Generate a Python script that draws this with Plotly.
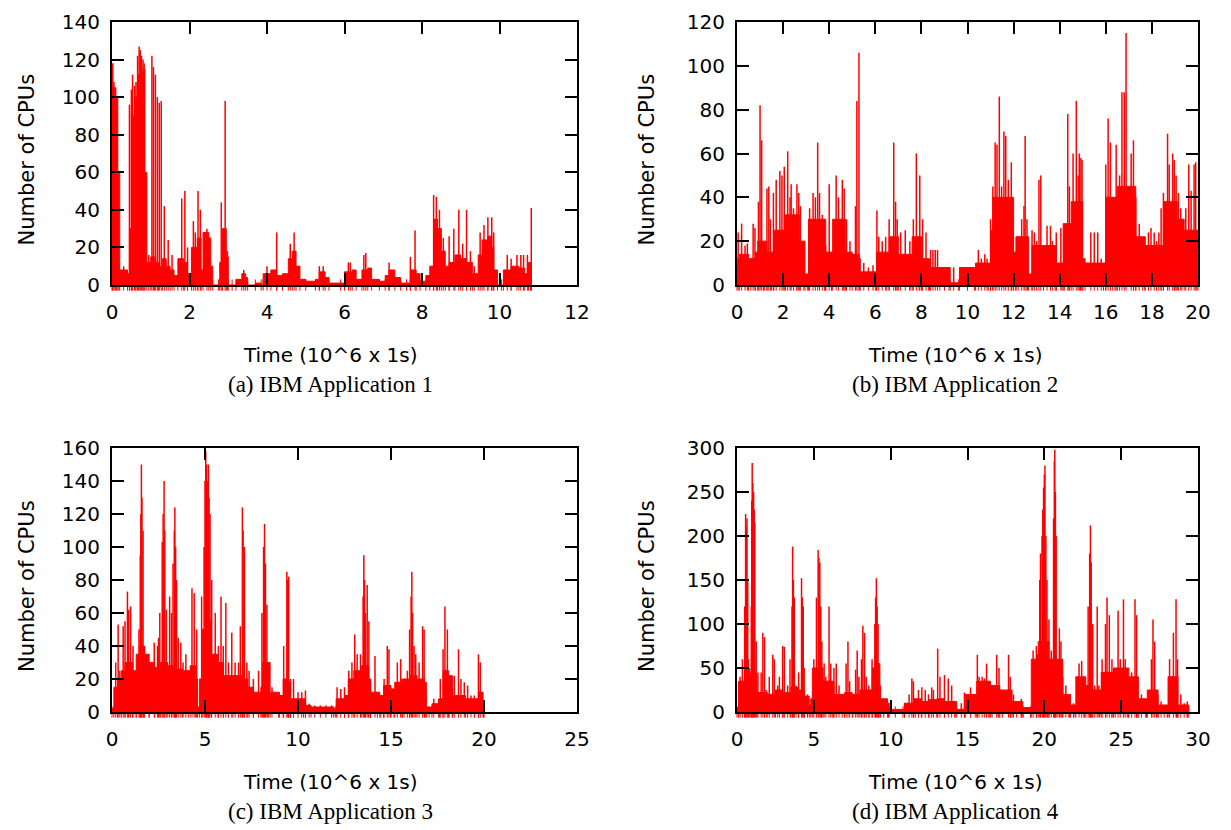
import plotly.graph_objects as go

# ---------------- data ----------------
# Panel (a) IBM Application 1 : dense body (t, cpus) and individual spikes (t, cpus)
a_body = [(0, 0), (0.01, 105), (0.1, 100), (0.15, 60), (0.2, 8), (0.4, 6), (0.45, 30), (0.5, 90), (0.6, 100),
          (0.68, 112), (0.8, 115), (0.85, 60), (0.9, 12), (1.0, 15), (1.1, 12), (1.2, 10), (1.3, 14),
          (1.4, 10), (1.5, 8), (1.6, 5), (1.7, 14), (1.85, 12), (1.95, 6), (2.05, 20), (2.2, 25), (2.3, 8),
          (2.35, 28), (2.5, 25), (2.55, 10), (2.6, 0), (2.75, 0), (2.78, 12), (2.85, 30), (2.95, 15), (3.0, 0),
          (3.1, 0), (3.2, 3), (3.35, 6), (3.45, 4), (3.5, 0), (3.7, 1), (3.85, 0), (3.9, 6), (4.1, 8), (4.25, 5),
          (4.4, 6), (4.55, 14), (4.65, 18), (4.75, 10), (4.85, 3), (5.0, 2), (5.25, 3), (5.35, 7), (5.5, 4),
          (5.6, 1), (5.9, 1), (6.0, 7), (6.2, 8), (6.3, 3), (6.45, 8), (6.6, 9), (6.7, 3), (6.9, 2), (7.05, 5),
          (7.15, 8), (7.3, 4), (7.45, 1), (7.6, 1), (7.7, 8), (7.85, 6), (7.95, 2), (8.1, 5), (8.2, 10), (8.3, 35),
          (8.4, 30), (8.5, 18), (8.6, 10), (8.7, 12), (8.85, 16), (9.0, 14), (9.15, 12), (9.3, 6), (9.45, 16),
          (9.55, 24), (9.7, 26), (9.8, 20), (9.85, 8), (9.95, 0), (10.05, 0), (10.1, 8), (10.3, 10), (10.5, 9),
          (10.65, 6), (10.75, 12), (10.8, 10), (10.82, 0)]
a_spikes = [(0.02, 118), (0.05, 108), (0.08, 100), (0.12, 96), (0.18, 12), (0.3, 10), (0.45, 96), (0.5, 104),
            (0.53, 112), (0.58, 106), (0.62, 108), (0.66, 122), (0.7, 127), (0.73, 125), (0.76, 122), (0.8, 120),
            (0.83, 118), (0.95, 16), (1.03, 122), (1.07, 116), (1.12, 112), (1.17, 100), (1.22, 97), (1.27, 98),
            (1.35, 42), (1.45, 24), (1.55, 16), (1.8, 46), (1.88, 50), (1.95, 20), (2.1, 34), (2.15, 28),
            (2.22, 50), (2.28, 40), (2.45, 30), (2.82, 44), (2.92, 98), (2.98, 18), (3.4, 8), (4.0, 10),
            (4.25, 28), (4.6, 22), (4.7, 28), (5.35, 10), (5.45, 10), (6.1, 12), (6.15, 12), (6.5, 16),
            (6.55, 17), (7.15, 12), (7.7, 15), (7.82, 29), (8.3, 48), (8.37, 47), (8.45, 40), (8.55, 25),
            (8.7, 26), (8.82, 30), (8.95, 40), (9.05, 22), (9.15, 40), (9.25, 18), (9.35, 10), (9.5, 28),
            (9.6, 32), (9.7, 36), (9.8, 36), (9.85, 28), (10.2, 16), (10.3, 14), (10.45, 16), (10.55, 16),
            (10.62, 16), (10.72, 16), (10.82, 41)]

# Panel (b) IBM Application 2
b_body = [(0, 12), (0.1, 14), (0.5, 12), (0.8, 15), (0.9, 20), (1.2, 20), (1.3, 15), (1.5, 15), (1.6, 25),
          (2.0, 25), (2.1, 32), (2.6, 32), (2.7, 20), (2.9, 20), (2.95, 5), (3.05, 5), (3.1, 30), (3.8, 30),
          (3.85, 15), (4.1, 15), (4.15, 30), (4.6, 30), (4.7, 15), (5.0, 14), (5.3, 12), (5.35, 6), (6.0, 6),
          (6.05, 15), (6.5, 15), (6.6, 22), (6.9, 22), (7.0, 14), (7.5, 14), (7.6, 22), (7.9, 22), (8.0, 12),
          (8.3, 12), (8.35, 8), (8.8, 8), (9.2, 8), (9.25, 1), (9.6, 1), (9.65, 8), (10.3, 8), (10.35, 10),
          (10.9, 10), (11.0, 25), (11.1, 40), (11.9, 40), (12.0, 15), (12.1, 22), (12.6, 22), (12.65, 5),
          (12.8, 18), (13.3, 18), (13.8, 18), (13.85, 10), (14.1, 10), (14.15, 28), (14.4, 28), (14.5, 38),
          (14.9, 38), (15.0, 12), (15.1, 10), (15.9, 10), (16.0, 40), (16.4, 40), (16.5, 45), (17.2, 45),
          (17.3, 22), (17.6, 22), (17.7, 18), (18.4, 18), (18.5, 38), (19.0, 38), (19.1, 30), (19.3, 30),
          (19.4, 25), (19.95, 25), (20, 12)]
b_spikes = [(0.05, 24), (0.2, 28), (0.35, 18), (0.45, 19), (0.6, 10), (0.7, 28), (0.78, 26), (0.93, 38),
            (1.0, 82), (1.07, 66), (1.15, 10), (1.3, 44), (1.38, 45), (1.45, 30), (1.58, 42), (1.7, 48),
            (1.86, 52), (1.95, 50), (2.05, 54), (2.2, 61), (2.3, 40), (2.35, 46), (2.45, 35), (2.6, 46),
            (2.68, 42), (2.75, 36), (3.15, 35), (3.3, 42), (3.4, 40), (3.5, 65), (3.58, 42), (3.7, 32),
            (3.85, 18), (4.0, 46), (4.1, 15), (4.3, 50), (4.4, 40), (4.57, 48), (4.65, 44), (4.75, 30),
            (4.9, 20), (5.14, 36), (5.2, 84), (5.29, 106), (5.5, 10), (5.7, 8), (5.9, 9), (6.07, 34),
            (6.15, 22), (6.3, 20), (6.45, 22), (6.6, 30), (6.8, 65), (6.88, 38), (6.95, 30), (7.1, 24),
            (7.3, 25), (7.5, 20), (7.65, 30), (7.78, 60), (7.93, 50), (8.05, 30), (8.2, 24), (8.4, 16),
            (8.5, 16), (8.6, 16), (8.7, 16), (9.0, 8), (9.4, 8), (10.0, 8), (10.47, 16), (10.6, 12),
            (10.75, 14), (10.85, 12), (11.0, 30), (11.1, 45), (11.2, 65), (11.28, 64), (11.38, 86),
            (11.48, 45), (11.58, 70), (11.66, 68), (11.77, 48), (11.9, 56), (11.98, 35), (12.1, 15),
            (12.2, 18), (12.35, 30), (12.45, 36), (12.5, 68), (12.58, 30), (12.8, 25), (12.9, 24), (13.0, 20),
            (13.1, 48), (13.18, 50), (13.3, 18), (13.45, 27), (13.6, 27), (13.68, 20), (13.85, 24),
            (14.05, 26), (14.2, 20), (14.35, 78), (14.42, 45), (14.58, 60), (14.72, 84), (14.8, 50),
            (14.85, 60), (14.92, 58), (14.97, 57), (15.35, 24), (15.5, 24), (15.65, 24), (15.8, 12),
            (16.0, 55), (16.1, 76), (16.2, 65), (16.3, 40), (16.45, 64), (16.6, 50), (16.7, 88), (16.8, 88),
            (16.88, 115), (17.1, 60), (17.2, 66), (17.3, 40), (17.45, 28), (17.7, 22), (17.85, 24),
            (17.96, 26), (18.1, 24), (18.2, 20), (18.3, 24), (18.4, 35), (18.5, 42), (18.68, 69), (18.75, 55),
            (18.9, 60), (18.97, 57), (19.05, 50), (19.15, 42), (19.25, 35), (19.47, 35), (19.6, 55),
            (19.7, 43), (19.83, 55), (19.9, 56)]

# Panel (c) IBM Application 3
c_body = [(0, 2), (0.1, 15), (0.3, 20), (0.5, 25), (0.7, 30), (0.9, 30), (1.1, 25), (1.3, 35), (1.5, 40),
          (1.7, 35), (2.0, 30), (2.3, 27), (2.6, 30), (3.0, 28), (3.4, 26), (3.8, 25), (4.2, 28), (4.5, 20),
          (4.6, 3), (4.7, 20), (4.85, 50), (5.2, 55), (5.35, 35), (5.7, 30), (6.0, 22), (6.5, 22), (7.0, 20),
          (7.3, 15), (7.6, 12), (8.0, 15), (8.1, 30), (8.35, 30), (8.5, 12), (9.0, 10), (9.2, 20), (9.5, 18),
          (9.6, 8), (10.3, 8), (10.4, 4), (10.7, 3), (11.9, 2), (12.0, 0), (12.05, 8), (12.5, 10), (12.7, 20),
          (13.0, 25), (13.4, 28), (13.8, 20), (13.9, 12), (14.4, 10), (14.6, 16), (15.0, 14), (15.2, 18),
          (15.6, 20), (16.0, 22), (16.4, 20), (16.8, 18), (16.9, 3), (17.2, 5), (17.6, 8), (17.8, 25),
          (18.1, 22), (18.3, 10), (19.0, 8), (19.5, 8), (19.7, 12), (19.95, 6), (20.0, 0)]
c_spikes = [(0.2, 30), (0.33, 53), (0.42, 25), (0.6, 52), (0.7, 55), (0.83, 73), (0.9, 62), (1.0, 64),
            (1.13, 40), (1.3, 22), (1.45, 50), (1.52, 95), (1.55, 120), (1.58, 150), (1.61, 130), (1.67, 110),
            (1.75, 40), (2.0, 28), (2.27, 42), (2.45, 40), (2.5, 45), (2.57, 60), (2.7, 103), (2.75, 120),
            (2.8, 140), (2.84, 110), (2.92, 62), (3.1, 70), (3.2, 60), (3.28, 90), (3.35, 110), (3.38, 124),
            (3.42, 100), (3.47, 80), (3.56, 45), (3.7, 42), (3.82, 30), (3.97, 35), (4.1, 25), (4.3, 75),
            (4.42, 72), (4.55, 50), (4.82, 70), (4.95, 100), (5.0, 140), (5.04, 158), (5.08, 150), (5.12, 140),
            (5.18, 150), (5.22, 130), (5.27, 120), (5.36, 80), (5.55, 60), (5.72, 40), (5.86, 70), (5.98, 40),
            (6.12, 66), (6.26, 30), (6.44, 48), (6.62, 30), (6.8, 30), (6.9, 52), (7.01, 124), (7.05, 110),
            (7.12, 100), (7.25, 30), (7.37, 25), (7.6, 20), (7.88, 25), (8.06, 60), (8.15, 100), (8.2, 114),
            (8.25, 90), (8.33, 65), (8.42, 30), (8.6, 15), (8.96, 12), (9.23, 40), (9.4, 85), (9.45, 80),
            (9.5, 82), (9.6, 20), (9.76, 20), (10.0, 12), (10.2, 12), (10.4, 13), (10.6, 5), (10.9, 4),
            (11.2, 4), (11.5, 4), (11.8, 4), (12.1, 15), (12.3, 14), (12.5, 15), (12.73, 25), (12.9, 30),
            (13.05, 47), (13.18, 35), (13.36, 35), (13.5, 70), (13.54, 95), (13.58, 80), (13.63, 60),
            (13.72, 77), (13.81, 55), (13.9, 20), (14.14, 34), (14.27, 12), (14.45, 10), (14.63, 20),
            (14.8, 40), (14.89, 38), (14.98, 10), (15.16, 12), (15.34, 30), (15.52, 32), (15.6, 20),
            (15.7, 18), (15.88, 25), (16.0, 50), (16.08, 70), (16.12, 85), (16.16, 60), (16.24, 40),
            (16.33, 35), (16.51, 30), (16.7, 52), (16.78, 50), (16.87, 10), (17.05, 2), (17.3, 8), (17.56, 8),
            (17.65, 20), (17.8, 38), (17.9, 64), (18.03, 50), (18.12, 20), (18.3, 15), (18.4, 22), (18.63, 38),
            (18.76, 20), (18.94, 18), (19.12, 16), (19.3, 10), (19.48, 10), (19.7, 35), (19.8, 30), (19.98, 3)]

# Panel (d) IBM Application 4
d_body = [(0, 5), (0.1, 35), (0.5, 40), (0.9, 45), (1.2, 40), (1.3, 22), (2.0, 20), (2.5, 25), (3.0, 22),
          (3.5, 28), (4.0, 25), (4.4, 18), (4.7, 8), (4.8, 15), (4.9, 50), (5.5, 50), (5.6, 35), (6.2, 35),
          (6.3, 20), (7.0, 22), (7.5, 20), (8.0, 25), (8.6, 25), (8.8, 50), (9.2, 55), (9.3, 15), (9.8, 10),
          (9.9, 3), (10.8, 3), (10.9, 10), (11.5, 15), (12.0, 12), (12.5, 14), (13.0, 15), (13.5, 12),
          (14.2, 12), (14.3, 3), (14.8, 3), (14.85, 20), (15.5, 20), (15.6, 35), (16.4, 35), (16.5, 30),
          (17.0, 30), (17.1, 25), (17.8, 25), (17.9, 12), (18.5, 12), (18.6, 5), (19.1, 5), (19.15, 60),
          (19.5, 65), (19.6, 80), (20.2, 80), (20.3, 60), (21.1, 60), (21.2, 20), (21.6, 20), (21.7, 8),
          (22.0, 8), (22.05, 40), (22.6, 40), (22.7, 30), (23.0, 30), (23.1, 25), (23.6, 25), (23.7, 45),
          (24.4, 45), (24.5, 50), (25.4, 50), (25.5, 40), (26.0, 40), (26.1, 15), (26.6, 15), (26.7, 25),
          (27.3, 25), (27.4, 8), (28.0, 8), (28.05, 40), (28.6, 40), (28.7, 8), (29.3, 8), (29.4, 0)]
d_spikes = [(0.2, 40), (0.35, 60), (0.5, 120), (0.56, 225), (0.6, 210), (0.65, 220), (0.7, 150), (0.74, 60),
            (0.82, 50), (0.93, 120), (0.96, 240), (0.99, 283), (1.03, 260), (1.08, 250), (1.12, 230),
            (1.16, 215), (1.25, 80), (1.36, 45), (1.57, 45), (1.68, 90), (1.79, 85),
            (1.9, 25), (2.1, 40), (2.33, 65), (2.43, 60), (2.65, 30), (2.76, 40), (2.97, 75), (3.08, 74),
            (3.3, 30), (3.45, 60), (3.58, 120), (3.62, 188), (3.67, 150), (3.73, 130), (3.84, 30), (4.01, 45),
            (4.2, 152), (4.25, 130), (4.31, 120), (4.37, 50), (4.59, 20), (5.0, 60), (5.17, 130), (5.28, 184),
            (5.33, 175), (5.39, 170), (5.45, 120), (5.52, 80), (5.67, 55), (5.78, 40), (5.99, 120), (6.1, 55),
            (6.31, 50), (6.46, 55), (6.64, 30), (6.85, 20), (7.1, 55), (7.22, 80), (7.33, 35), (7.54, 20),
            (7.72, 48), (7.82, 70), (7.93, 40), (8.1, 60), (8.19, 98), (8.3, 90), (8.41, 40), (8.58, 30),
            (8.79, 60), (8.97, 100), (9.02, 130), (9.07, 152), (9.12, 120), (9.18, 100), (9.33, 30),
            (9.55, 15), (9.87, 10), (10.3, 3), (10.9, 10), (11.2, 20), (11.38, 38), (11.48, 35), (11.6, 15),
            (11.81, 25), (12.03, 28), (12.25, 25), (12.46, 20), (12.67, 28), (12.78, 25), (13.06, 72),
            (13.21, 40), (13.5, 42), (13.75, 38), (13.97, 30), (14.18, 12), (14.6, 10), (14.8, 22), (15.2, 28),
            (15.64, 65), (15.75, 40), (15.95, 40), (16.1, 38), (16.24, 55), (16.4, 30), (16.6, 25), (16.9, 65),
            (17.05, 50), (17.27, 20), (17.67, 65), (17.78, 40), (17.99, 20), (18.2, 10), (18.5, 15), (18.62, 5),
            (19.27, 70), (19.48, 75), (19.7, 150), (19.75, 180), (19.85, 200), (19.9, 230), (19.95, 255),
            (20.0, 270), (20.04, 280), (20.1, 200), (20.17, 150), (20.3, 105), (20.45, 70), (20.6, 220),
            (20.65, 285), (20.68, 298), (20.72, 250), (20.77, 200), (20.88, 60), (20.98, 95),
            (21.08, 80), (21.2, 40), (21.4, 30), (21.63, 15), (21.9, 10), (22.26, 55), (22.43, 58), (22.58, 40),
            (22.85, 120), (22.95, 180), (23.0, 212), (23.05, 170), (23.15, 100), (23.28, 30), (23.44, 120),
            (23.55, 30), (23.76, 60), (23.98, 100), (24.08, 130), (24.23, 110), (24.4, 60), (24.61, 40),
            (24.8, 115), (24.94, 60), (25.15, 128), (25.26, 60), (25.47, 40), (25.68, 45), (25.9, 128),
            (26.0, 110), (26.1, 40), (26.32, 20), (26.65, 12), (26.97, 60), (27.07, 105), (27.18, 80),
            (27.39, 20), (27.6, 12), (27.8, 5), (28.15, 60), (28.4, 90), (28.57, 128), (28.67, 60),
            (28.88, 20), (29.1, 10), (29.3, 12)]

captions = ["(a) IBM Application 1", "(b) IBM Application 2", "(c) IBM Application 3", "(d) IBM Application 4"]
x_title = "Time (10^6 x 1s)"
y_title = "Number of CPUs"
x_ranges = [(0, 12), (0, 20), (0, 25), (0, 30)]
x_dticks = [2, 2, 5, 5]
y_ranges = [(0, 140), (0, 120), (0, 160), (0, 300)]
y_dticks = [20, 20, 20, 50]

# ---------------- layout geometry (pixels of the 1231x830 page) ----------------
PAGE_W, PAGE_H = 1231, 830
OFF = 8  # the browser's default body margin shifts the figure by 8 px
W, H = PAGE_W - OFF, PAGE_H - OFF
boxes = [  # left, right, top, bottom in page px
    (112, 577, 22, 285),
    (737, 1198, 22, 285),
    (112, 577, 448, 712),
    (737, 1198, 448, 712),
]
title_x = [330, 955, 330, 955]
ylab_x = [27, 647, 27, 647]


def fx(px):
    return (px - OFF) / W


def fy(py):
    return 1 - (py - OFF) / H


RED = "#ff0000"
fig = go.Figure()
panels = [(a_body, a_spikes), (b_body, b_spikes), (c_body, c_spikes), (d_body, d_spikes)]

for i, (body, spikes) in enumerate(panels):
    ax = "" if i == 0 else str(i + 1)
    xa, ya = "x" + ax, "y" + ax
    bt = [p[0] for p in body]
    bv = [p[1] for p in body]
    fig.add_trace(go.Scatter(x=bt, y=bv, mode="lines", fill="tozeroy", fillcolor=RED,
                             line=dict(color=RED, width=1, shape="hv"), xaxis=xa, yaxis=ya,
                             showlegend=False, hoverinfo="skip"))
    sx, sy = [], []
    for t, v in spikes:
        sx += [t, t, None]
        sy += [0, v, None]
    fig.add_trace(go.Scatter(x=sx, y=sy, mode="lines", line=dict(color=RED, width=1.5),
                             xaxis=xa, yaxis=ya, showlegend=False, hoverinfo="skip"))
    # small marks of the impulses poking just under the baseline
    fig.add_trace(go.Scatter(x=[t for t, _ in spikes] + bt, y=[0] * (len(spikes) + len(bt)), mode="markers",
                             marker=dict(symbol="line-ns", size=8, line=dict(color=RED, width=1)),
                             cliponaxis=False, xaxis=xa, yaxis=ya, showlegend=False, hoverinfo="skip"))

    l, r, t_, b_ = boxes[i]
    axis_common = dict(showgrid=False, zeroline=False, showline=True, linecolor="black", linewidth=2,
                       mirror="ticks", ticks="inside", ticklen=12, tickwidth=2, tickcolor="black",
                       automargin=False,
                       tickfont=dict(family="DejaVu Sans", size=20, color="black"))
    fig.update_layout(**{
        "xaxis" + ax: dict(domain=[fx(l), fx(r)], range=list(x_ranges[i]), dtick=x_dticks[i], tick0=0,
                           anchor=ya, ticklabelstandoff=8, **axis_common),
        "yaxis" + ax: dict(domain=[fy(b_), fy(t_)], range=list(y_ranges[i]), dtick=y_dticks[i], tick0=0,
                           anchor=xa, ticklabelstandoff=6, **axis_common),
    })
    # axis titles and caption
    fig.add_annotation(text=x_title, x=fx(title_x[i]), y=fy(b_ + 70), xref="paper", yref="paper",
                       showarrow=False, xanchor="center", yanchor="middle",
                       font=dict(family="DejaVu Sans", size=20, color="black"))
    fig.add_annotation(text=captions[i], x=fx(title_x[i]), y=fy(b_ + 99), xref="paper", yref="paper",
                       showarrow=False, xanchor="center", yanchor="middle",
                       font=dict(family="Liberation Serif", size=23, color="black"))
    fig.add_annotation(text=y_title, x=fx(ylab_x[i]), y=fy((t_ + b_) / 2 + 6), xref="paper",
                       yref="paper", showarrow=False, textangle=-90, xanchor="center", yanchor="middle",
                       font=dict(family="DejaVu Sans", size=21, color="black"))

fig.update_layout(width=W, height=H, margin=dict(l=0, r=0, t=0, b=0, autoexpand=False),
                  plot_bgcolor="white", paper_bgcolor="white", showlegend=False)
fig.write_html("out.html")
